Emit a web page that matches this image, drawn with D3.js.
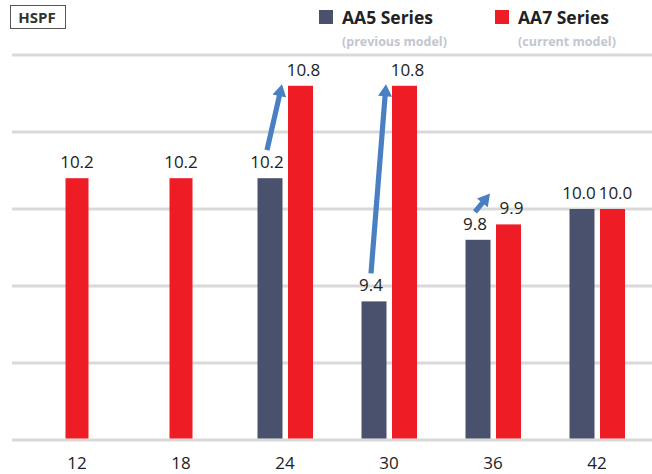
<!DOCTYPE html>
<html>
<head>
<meta charset="utf-8">
<script src="https://cdn.jsdelivr.net/npm/d3@7"></script>
<style>
  html, body { margin: 0; padding: 0; background: #fff; }
  svg { display: block; font-family: "Open Sans", "Noto Sans", sans-serif; }
</style>
</head>
<body>
<svg id="chart" width="652" height="474"></svg>
<script>
// ---- data ----
const categories = ["12", "18", "24", "30", "36", "42"];
const aa5Values = [null, null, 10.2, 9.4, 9.8, 10.0];   // AA5 Series (previous model)
const aa7Values = [10.2, 10.2, 10.8, 10.8, 9.9, 10.0];  // AA7 Series (current model)
const yTicks = [8.5, 9.0, 9.5, 10.0, 10.5, 11.0];
const arrowCategories = ["24", "30", "36"];
const arrowTipValues = [10.81, 10.81, 10.1];
const seriesNames = ["AA5 Series", "AA7 Series"];
const seriesNotes = ["(previous model)", "(current model)"];
const unitLabel = "HSPF";

// ---- styles ----
const colGray = "#4a516d";
const colRed = "#ee1c25";
const colArrow = "#4a7fc2";
const colGrid = "#d9d9d9";
const colText = "#222222";

const svg = d3.select("#chart");

const x = d3.scaleBand().domain(categories).range([25, 649]).padding(0);
const y = d3.scaleLinear().domain([8.5, 11]).range([440, 55]);

const barW = 25, gap = 5;

// gridlines
svg.append("g").selectAll("line").data(yTicks).join("line")
  .attr("x1", 12).attr("x2", 652)
  .attr("y1", d => y(d)).attr("y2", d => y(d))
  .attr("stroke", colGrid).attr("stroke-width", 3);

const cx = c => x(c) + x.bandwidth() / 2;

const rows = categories.map((c, i) => ({ c, a5: aa5Values[i], a7: aa7Values[i] }));

function grayX(r) { return cx(r.c) - gap / 2 - barW; }
function redX(r) { return r.a5 == null ? cx(r.c) - (barW - 2) / 2 : cx(r.c) + gap / 2 + 0.5; }
function redW(r) { return r.a5 == null ? barW - 2 : barW; }

// bars
const gBars = svg.append("g");
gBars.selectAll("rect.a5").data(rows.filter(r => r.a5 != null)).join("rect")
  .attr("class", "a5")
  .attr("x", grayX).attr("width", barW)
  .attr("y", r => y(r.a5)).attr("height", r => y(8.5) - y(r.a5) - 1.5)
  .attr("fill", colGray);
gBars.selectAll("rect.a7").data(rows).join("rect")
  .attr("class", "a7")
  .attr("x", redX).attr("width", redW)
  .attr("y", r => y(r.a7)).attr("height", r => y(8.5) - y(r.a7) - 1.5)
  .attr("fill", colRed);

// value labels
const gLab = svg.append("g").attr("font-size", 17).attr("fill", colText).attr("text-anchor", "middle");
gLab.selectAll("text.a5").data(rows.filter(r => r.a5 != null)).join("text")
  .attr("x", r => grayX(r) + barW / 2 - 3)
  .attr("y", r => y(r.a5) - 10)
  .text(r => r.a5.toFixed(1));
gLab.selectAll("text.a7").data(rows).join("text")
  .attr("x", r => redX(r) + redW(r) / 2 + (r.a5 == null ? 0 : 3))
  .attr("y", r => y(r.a7) - 10)
  .text(r => r.a7.toFixed(1));

// arrows
function arrowPath(x0, y0, x1, y1) {
  const dx = x1 - x0, dy = y1 - y0, len = Math.hypot(dx, dy);
  const ux = dx / len, uy = dy / len, px = -uy, py = ux;
  const sw = 2.6, hw = 7, hl = 12;
  const bx = x1 - ux * hl, by = y1 - uy * hl;
  const pts = [
    [x0 + px * sw, y0 + py * sw],
    [bx + px * sw, by + py * sw],
    [bx + px * hw, by + py * hw],
    [x1, y1],
    [bx - px * hw, by - py * hw],
    [bx - px * sw, by - py * sw],
    [x0 - px * sw, y0 - py * sw]
  ];
  return "M" + pts.map(p => p.join(",")).join("L") + "Z";
}
const arrows = arrowCategories.map((c, i) => {
  const r = rows.find(d => d.c === c);
  return { r, tip: arrowTipValues[i] };
});
svg.append("g").selectAll("path").data(arrows).join("path")
  .attr("d", a => {
    const x0 = grayX(a.r) + barW / 2 - 3;
    const y0 = y(a.r.a5) - 28;
    const x1 = redX(a.r) - 6;
    const y1 = y(a.tip);
    return arrowPath(x0, y0, x1, y1);
  })
  .attr("fill", colArrow);

// x axis labels
svg.append("g").attr("font-size", 17).attr("fill", colText).attr("text-anchor", "middle")
  .selectAll("text").data(categories).join("text")
  .attr("x", c => cx(c)).attr("y", 469).text(c => c);

// unit box
svg.append("rect").attr("x", 10.5).attr("y", 5.5).attr("width", 55).attr("height", 23)
  .attr("fill", "#fff").attr("stroke", "#555").attr("stroke-width", 1);
svg.append("text").attr("x", 37).attr("y", 23).attr("text-anchor", "middle")
  .attr("font-size", 15).attr("font-weight", "bold").attr("fill", "#333").text(unitLabel);

// legend
const legendX = [319, 495];
const legendCols = [colGray, colRed];
const gLeg = svg.append("g");
seriesNames.forEach((n, i) => {
  gLeg.append("rect").attr("x", legendX[i]).attr("y", 10).attr("width", 14).attr("height", 14)
    .attr("fill", legendCols[i]);
  gLeg.append("text").attr("x", legendX[i] + 23).attr("y", 24)
    .attr("font-size", 17.5).attr("font-weight", "bold").attr("fill", colText).text(n);
  gLeg.append("text").attr("x", legendX[i] + 23).attr("y", 46)
    .attr("font-size", 12.5).attr("font-weight", "bold").attr("fill", "#c2c6d0").text(seriesNotes[i]);
});
</script>
</body>
</html>
